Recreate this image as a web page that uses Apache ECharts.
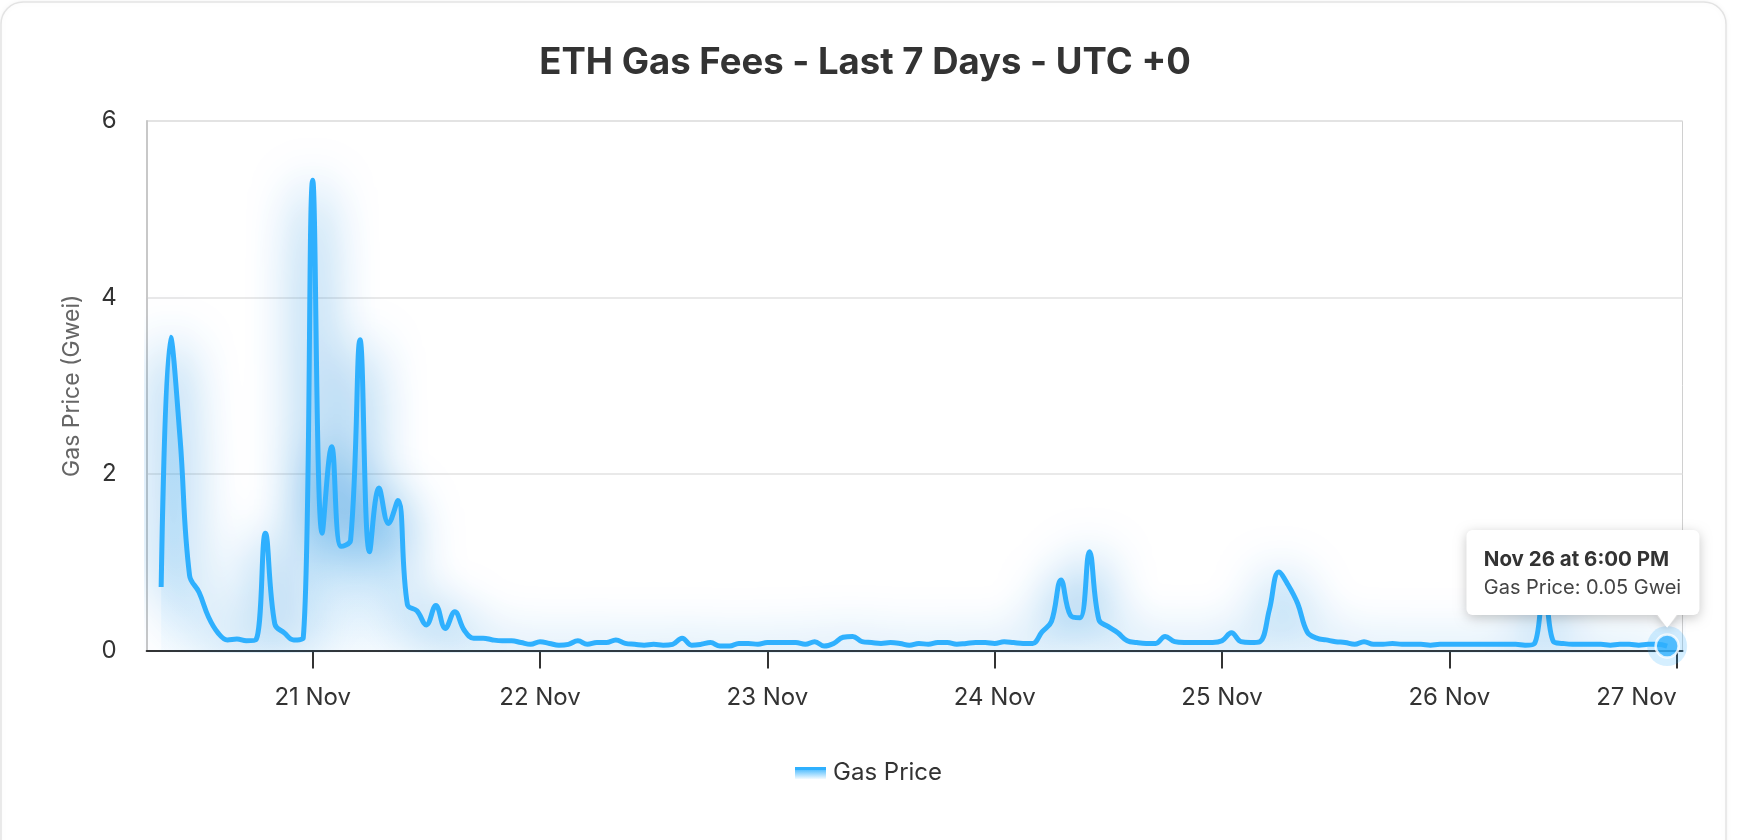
<!DOCTYPE html>
<html>
<head>
<meta charset="utf-8">
<script src="https://cdn.jsdelivr.net/npm/echarts@6/dist/echarts.min.js"></script>
<style>
html,body{margin:0;padding:0;background:#ffffff;}
#chart{width:1740px;height:840px;}
</style>
</head>
<body>
<div id="chart"></div>
<script>
// ---------- data ----------
const chartTitle = 'ETH Gas Fees - Last 7 Days - UTC +0';
const seriesName = 'Gas Price';
const yAxisName = 'Gas Price (Gwei)';
const unitLabel = 'Gwei';
const firstHour = 8; // hourly samples, hours counted from 20 Nov 00:00 UTC
const gasPrice = [
  0.72, 3.55, 2.40, 0.85, 0.66, 0.38, 0.20, 0.12, 0.13, 0.11, 0.12, 1.33, 0.30, 0.20, 0.12, 0.14,
  5.33, 1.33, 2.31, 1.18, 1.25, 3.52, 1.12, 1.84, 1.44, 1.70, 0.52, 0.45, 0.29, 0.51, 0.25, 0.44,
  0.23, 0.14, 0.14, 0.12, 0.11, 0.11, 0.09, 0.07, 0.10, 0.08, 0.06, 0.07, 0.11, 0.07, 0.09, 0.09,
  0.12, 0.08, 0.07, 0.06, 0.07, 0.06, 0.07, 0.14, 0.06, 0.07, 0.09, 0.05, 0.05, 0.08, 0.08, 0.07,
  0.09, 0.09, 0.09, 0.09, 0.07, 0.10, 0.05, 0.08, 0.15, 0.16, 0.10, 0.09, 0.08, 0.09, 0.08, 0.06,
  0.08, 0.07, 0.09, 0.09, 0.07, 0.08, 0.09, 0.09, 0.08, 0.10, 0.09, 0.08, 0.08, 0.21, 0.33, 0.80,
  0.40, 0.37, 1.12, 0.35, 0.27, 0.20, 0.11, 0.09, 0.08, 0.08, 0.16, 0.10, 0.09, 0.09, 0.09, 0.09,
  0.11, 0.20, 0.10, 0.09, 0.10, 0.46, 0.89, 0.74, 0.53, 0.21, 0.14, 0.12, 0.10, 0.09, 0.07, 0.10,
  0.07, 0.07, 0.08, 0.07, 0.07, 0.07, 0.06, 0.07, 0.07, 0.07, 0.07, 0.07, 0.07, 0.07, 0.07, 0.07,
  0.06, 0.08, 0.75, 0.10, 0.08, 0.07, 0.07, 0.07, 0.07, 0.06, 0.07, 0.07, 0.06, 0.07, 0.07, 0.05
];
const tickHours = [24, 48, 72, 96, 120, 144, 168];
const tickLabels = ['21 Nov', '22 Nov', '23 Nov', '24 Nov', '25 Nov', '26 Nov', '27 Nov'];
const tooltipTitle = 'Nov 26 at 6:00 PM';

// ---------- chart ----------
const points = gasPrice.map((v, i) => [firstHour + i, v]);
const lastPoint = points[points.length - 1];

const FONT = 'Inter, "Noto Sans", "DejaVu Sans", sans-serif';
const BLUE = '#2fb0fe';

const chart = echarts.init(document.getElementById('chart'), null, { renderer: 'canvas' });

const option = {
  animation: false,
  backgroundColor: 'transparent',
  textStyle: { fontFamily: FONT },
  title: {
    text: chartTitle,
    left: 860,
    textAlign: 'center',
    top: 40,
    textStyle: { fontSize: 36.5, fontWeight: 'bold', color: '#333333', fontFamily: FONT }
  },
  legend: {
    data: [{
      name: seriesName,
      icon: 'rect',
      itemStyle: {
        color: {
          type: 'linear', x: 0, y: 0, x2: 0, y2: 1,
          colorStops: [
            { offset: 0, color: BLUE },
            { offset: 0.27, color: BLUE },
            { offset: 0.28, color: 'rgba(47,176,254,0.75)' },
            { offset: 1, color: 'rgba(47,176,254,0.06)' }
          ]
        }
      }
    }],
    left: 790,
    top: 756,
    itemWidth: 31,
    itemHeight: 12,
    textStyle: { fontSize: 24, color: '#333333', fontFamily: FONT, padding: [0, 0, 0, 2] }
  },
  grid: {
    left: 146.7, right: 57.5, top: 121, bottom: 189.5,
    show: true, borderColor: '#d0d0d0', borderWidth: 1, backgroundColor: 'transparent'
  },
  xAxis: {
    type: 'value',
    min: 6.474,
    max: 168.62,
    axisLine: { show: true, lineStyle: { color: '#333333', width: 2 } },
    axisTick: { show: true, customValues: tickHours, length: 18, lineStyle: { color: '#333333', width: 2 } },
    axisLabel: {
      customValues: tickHours,
      alignMaxLabel: 'right',
      formatter: (v) => { const k = tickHours.indexOf(Math.round(v)); return k >= 0 ? tickLabels[k] : ''; },
      fontSize: 24, color: '#333333', margin: 35, fontFamily: FONT
    },
    splitLine: { show: false }
  },
  yAxis: {
    type: 'value',
    min: 0, max: 6, interval: 2,
    name: yAxisName,
    nameLocation: 'middle',
    nameGap: 63,
    nameTextStyle: { fontSize: 23, color: '#666666', fontFamily: FONT },
    axisLine: { show: true, lineStyle: { color: '#c8c8c8', width: 2 } },
    axisTick: { show: false },
    axisLabel: { fontSize: 24, color: '#333333', margin: 30, fontFamily: FONT },
    splitLine: { show: true, lineStyle: { color: '#e2e2e2', width: 1.5 } }
  },
  series: [
    {
      name: seriesName,
      type: 'line',
      data: points,
      smooth: 0.4,
      symbol: 'none',
      showSymbol: false,
      lineStyle: { color: BLUE, width: 5, shadowBlur: 52, shadowColor: 'rgba(0,125,215,1)', shadowOffsetY: 8 },
      itemStyle: { color: BLUE },
      areaStyle: {
        color: {
          type: 'linear', x: 0, y: 0, x2: 0, y2: 1,
          colorStops: [
            { offset: 0, color: 'rgba(47,176,254,0.55)' },
            { offset: 1, color: 'rgba(47,176,254,0.04)' }
          ]
        },
        shadowBlur: 52,
        shadowColor: 'rgba(0,125,215,1)',
        shadowOffsetY: 8
      },
      z: 3
    },
    {
      name: 'halo',
      type: 'scatter',
      data: [lastPoint],
      symbolSize: 40,
      itemStyle: { color: 'rgba(47,176,254,0.25)' },
      silent: true,
      z: 4
    },
    {
      name: 'dot',
      type: 'scatter',
      data: [lastPoint],
      symbolSize: 23,
      itemStyle: { color: BLUE, borderColor: '#ffffff', borderWidth: 2.5 },
      silent: true,
      z: 5
    }
  ]
};

chart.setOption(option);

// tooltip-like callout anchored on the last data point
const p = chart.convertToPixel({ gridIndex: 0 }, lastPoint);
const valueText = seriesName + ': ' + lastPoint[1].toFixed(2) + ' ' + unitLabel;
chart.setOption({
  graphic: [
    {
      type: 'rect', silent: true, z: -100,
      shape: { x: 1, y: 2, width: 1725, height: 900, r: 22 },
      style: { fill: '#ffffff', stroke: '#e3e3e3', lineWidth: 1.5, shadowBlur: 6, shadowColor: 'rgba(0,0,0,0.05)' }
    },
    { type: 'polygon', silent: true, z: 100, x: p[0], y: p[1],
      shape: { points: [[-11.5, -31.5], [11.5, -31.5], [0, -18.5]] },
      style: { fill: '#ffffff', shadowBlur: 10, shadowColor: 'rgba(0,0,0,0.2)', shadowOffsetY: 2 } },
    { type: 'rect', silent: true, z: 101, x: p[0], y: p[1],
      shape: { x: -200.7, y: -116, width: 233, height: 85, r: 6 },
      style: { fill: '#ffffff', shadowBlur: 12, shadowColor: 'rgba(0,0,0,0.22)', shadowOffsetY: 3 } },
    { type: 'polygon', silent: true, z: 102, x: p[0], y: p[1],
      shape: { points: [[-11.5, -33.5], [11.5, -33.5], [0, -18.5]] },
      style: { fill: '#ffffff' } },
    { type: 'text', silent: true, z: 103, x: p[0] - 183.4, y: p[1] - 86.3,
      style: { text: tooltipTitle, fontSize: 20.5, fontWeight: 'bold', fontFamily: FONT, fill: '#333333', verticalAlign: 'middle', align: 'left' } },
    { type: 'text', silent: true, z: 103, x: p[0] - 183.4, y: p[1] - 58.3,
      style: { text: valueText, fontSize: 20, fontFamily: FONT, fill: '#444444', verticalAlign: 'middle', align: 'left' } }
  ]
});
</script>
</body>
</html>
